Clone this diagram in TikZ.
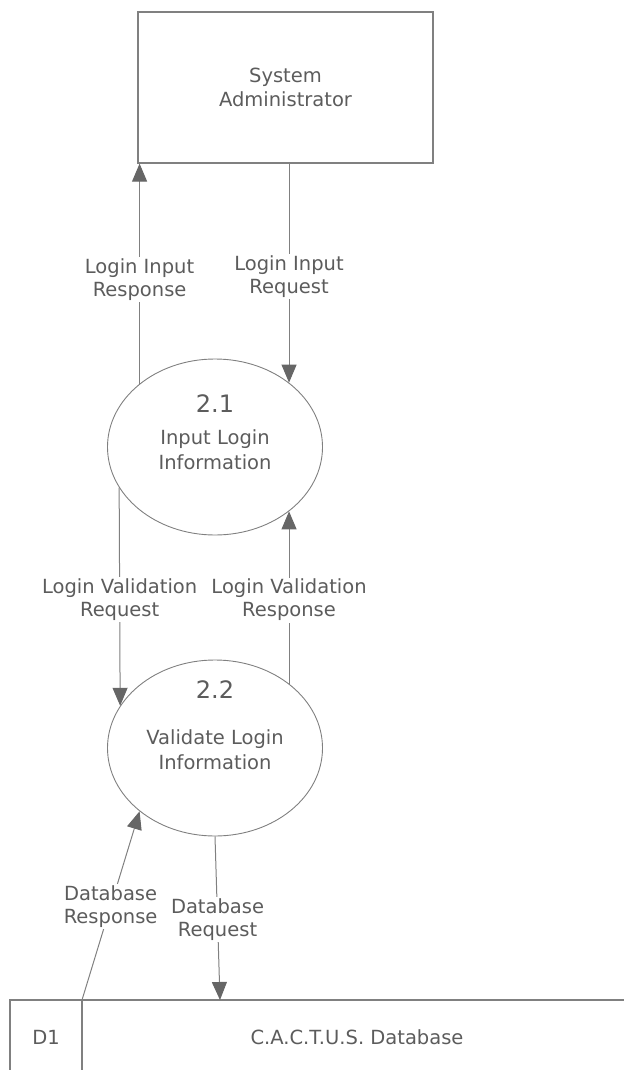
\documentclass[tikz,border=0pt]{standalone}
\usepackage{fontspec}
\setmainfont{DejaVu Sans}
\usetikzlibrary{arrows.meta,shapes.geometric}
\definecolor{ink}{HTML}{5C5C5C}
\definecolor{edge}{HTML}{808080}
\definecolor{tipfill}{HTML}{666666}

\begin{document}
\begin{tikzpicture}[x=1pt,y=-1pt,
  entity/.style={draw=edge, line width=1.2pt, minimum width=295, minimum height=151,
    font=\fontsize{19.5}{24}\selectfont, text=ink, align=center},
  process/.style={draw=edge, line width=0.9pt, ellipse, minimum width=215, minimum height=176},
  procnum/.style={font=\fontsize{24}{28}\selectfont, text=ink},
  proctext/.style={font=\fontsize{19.5}{25}\selectfont, text=ink, align=center},
  storeline/.style={draw=edge, line width=1.2pt},
  storetext/.style={font=\fontsize{19.5}{24}\selectfont, text=ink},
  flow/.style={draw=edge, line width=1pt,
    -{Triangle[length=18pt,width=15pt,fill=tipfill,color=tipfill]}},
  lbl/.style={font=\fontsize{19.5}{23}\selectfont, text=ink, align=center,
    fill=white, inner sep=1.5pt}
]
\useasboundingbox (0,0) rectangle (624,1070);

% external entity
\node[entity] (admin) at (285.5,87.5) {System\\Administrator};

% processes
\node[process] (p21) at (215,447) {};
\node[procnum] (n21) at (215,404) {2.1};
\node[proctext] (t21) at (215,450) {Input Login\\Information};

\node[process] (p22) at (215,748) {};
\node[procnum] (n22) at (215,690) {2.2};
\node[proctext] (t22) at (215,750) {Validate Login\\Information};

% data store (open on the right and at the bottom)
\coordinate (dsNW) at (10,1000);
\coordinate (dsNE) at (624,1000);
\coordinate (dsSW) at (10,1070);
\coordinate (dsDivTop) at (82,1000);
\coordinate (dsDivBot) at (82,1070);
\coordinate (dsIn) at (220,1000);
\draw[storeline] (dsSW) -- (dsNW) -- (dsNE);
\draw[storeline] (dsDivTop) -- (dsDivBot);
\node[storetext] (dsid) at (46,1037) {D1};
\node[storetext] (dsname) at (357,1037) {C.A.C.T.U.S. Database};

% data flows
\draw[flow] (p21.140) -- (p21.140 |- admin.south)
  node[lbl, pos=0.475] (f1) {Login Input\\Response};
\draw[flow] (admin.south -| p21.41.5) -- (p21.41.5)
  node[lbl, pos=0.517] (f2) {Login Input\\Request};
\draw[flow] (p21.203.4) -- (p22.156.6)
  node[lbl, pos=0.511] (f3) {Login Validation\\Request};
\draw[flow] (p22.41.5) -- (p21.-41.5)
  node[lbl, pos=0.485] (f4) {Login Validation\\Response};
\draw[flow] (dsDivTop) -- (p22.220)
  node[lbl, pos=0.497] (f5) {Database\\Response};
\draw[flow] (p22.south) -- (dsIn)
  node[lbl, pos=0.506] (f6) {Database\\Request};
\end{tikzpicture}
\end{document}
